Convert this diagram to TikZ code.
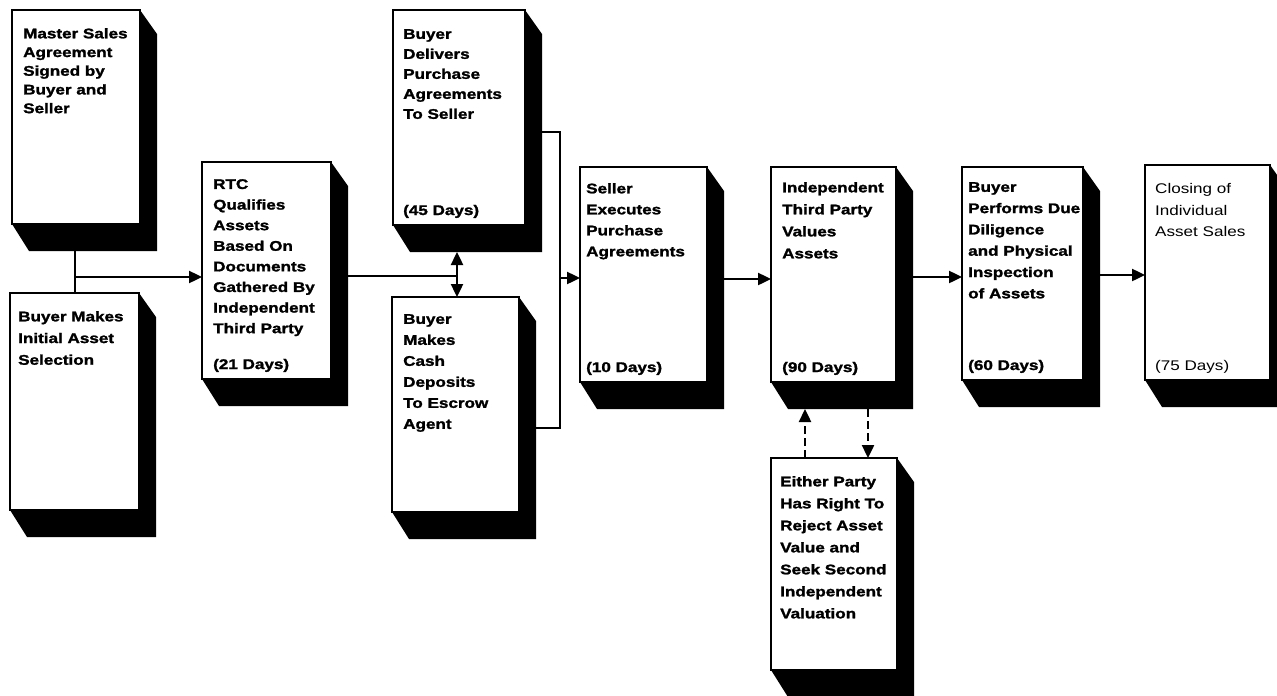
\documentclass[tikz,border=0pt]{standalone}
\usepackage{fontspec}
\setmainfont{Liberation Sans}[FakeStretch=1.22, BoldFeatures={FakeBold=1.6}]
\usetikzlibrary{calc,arrows.meta}
\newcommand\blk[5]{%
  \fill ({#2+#4},#3) -- ({#2+#4+17},{#3+24}) -- ({#2+#4+17},{#3+#5+27}) -- ({#2+17},{#3+#5+27}) -- (#2,{#3+#5}) -- cycle;
  \node[box, minimum width=#4pt, minimum height=#5pt] (#1) at (#2,#3) {};
}
\newcommand\btxt[5]{%
  \node[txt=#4] (#1-t) at ($(#1.north west)+(#2,#3)$) {#5};
}
\newcommand\bdays[3]{%
  \node[days] (#1-d) at ($(#1.south west)+(#2,-10)$) {#3};
}
\begin{document}
\begin{tikzpicture}[x=1pt,y=-1pt,
  box/.style={draw, line width=2pt, fill=white, inner sep=0pt, outer sep=0pt, anchor=north west},
  txt/.style={anchor=north west, inner sep=0pt, align=left, font=\bfseries\fontsize{14}{#1}\selectfont},
  days/.style={anchor=base west, inner sep=0pt, font=\bfseries\fontsize{14}{16}\selectfont},
  ln/.style={line width=2.4pt},
  arr/.style={ln, -{Triangle[length=13pt,width=12pt]}},
  dsh/.style={dash pattern=on 8pt off 4pt}
]
\useasboundingbox (0,0) rectangle (1277,696);
% blocks
\blk{ms}{12}{10}{128}{214}
\blk{bi}{10}{293}{129}{217}
\blk{rtc}{202}{162}{129}{217}
\blk{bd}{393}{10}{132}{215}
\blk{bc}{392}{297}{127}{215}
\blk{se}{580}{167}{127}{215}
\blk{iv}{771}{167}{125}{215}
\blk{bp}{962}{167}{121}{213}
\blk{cl}{1145}{165}{125}{215}
\blk{ep}{771}{458}{126}{212}
% texts
\btxt{ms}{11}{18}{18.7}{Master Sales\\Agreement\\Signed by\\Buyer and\\Seller}
\btxt{bi}{8}{18}{21.7}{Buyer Makes\\Initial Asset\\Selection}
\btxt{rtc}{11}{17}{20.6}{RTC\\Qualifies\\Assets\\Based On\\Documents\\Gathered By\\Independent\\Third Party}
\bdays{rtc}{11}{(21 Days)}
\btxt{bd}{10}{19}{20}{Buyer\\Delivers\\Purchase\\Agreements\\To Seller}
\bdays{bd}{10}{(45 Days)}
\btxt{bc}{11}{17}{21}{Buyer\\Makes\\Cash\\Deposits\\To Escrow\\Agent}
\btxt{se}{6}{16}{21}{Seller\\Executes\\Purchase\\Agreements}
\bdays{se}{6}{(10 Days)}
\btxt{iv}{11}{15}{22}{Independent\\Third Party\\Values\\Assets}
\bdays{iv}{11}{(90 Days)}
\btxt{bp}{6}{15}{21.3}{Buyer\\Performs Due\\Diligence\\and Physical\\Inspection\\of Assets}
\bdays{bp}{6}{(60 Days)}
\node[txt=21.7, font=\mdseries\fontsize{14}{21.7}\selectfont] (cl-t) at ($(cl.north west)+(10,18)$) {Closing of\\Individual\\Asset Sales};
\node[days, font=\mdseries\fontsize{14}{16}\selectfont] (cl-d) at ($(cl.south west)+(10,-10)$) {(75 Days)};
\btxt{ep}{9}{18}{22}{Either Party\\Has Right To\\Reject Asset\\Value and\\Seek Second\\Independent\\Valuation}
% connectors
\coordinate (j1) at (75,277);
\draw[ln] (ms.south -| j1) -- (bi.north -| j1);
\draw[arr] (j1) -- (j1 -| rtc.west);
\coordinate (j2) at (457,276);
\draw[ln] (rtc.east |- j2) -- (j2);
\draw[arr] (j2) -- ($(bd.south -| j2)+(0,27)$);
\draw[arr] (j2) -- (bc.north -| j2);
\coordinate (t1) at (560,132);
\coordinate (t2) at (560,428);
\coordinate (j3) at (560,278);
\draw[ln] (bd.east |- t1) -- (t1) -- (t2) -- (t2 -| bc.east);
\draw[arr] (j3) -- (j3 -| se.west);
\coordinate (a1) at (0,279);
\coordinate (a2) at (0,277);
\coordinate (a3) at (0,275);
\draw[arr] (se.east |- a1) -- (iv.west |- a1);
\draw[arr] (iv.east |- a2) -- (bp.west |- a2);
\draw[arr] (bp.east |- a3) -- (cl.west |- a3);
\coordinate (d1) at (805,0);
\coordinate (d2) at (868,0);
\draw[arr, dsh] (ep.north -| d1) -- ($(iv.south -| d1)+(0,27)$);
\draw[arr, dsh] ($(iv.south -| d2)+(0,27)$) -- (ep.north -| d2);
\end{tikzpicture}
\end{document}
